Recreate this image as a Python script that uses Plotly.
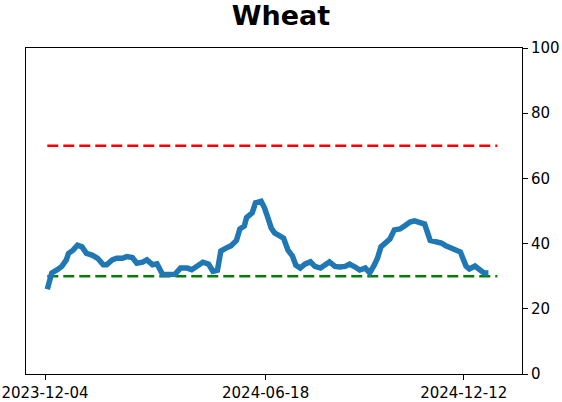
import plotly.graph_objects as go
import pandas as pd

dates = [
    "2023-12-06", "2023-12-10", "2023-12-15", "2023-12-19", "2023-12-23", "2023-12-25",
    "2023-12-29", "2024-01-02", "2024-01-06", "2024-01-10", "2024-01-15", "2024-01-20",
    "2024-01-25", "2024-01-28", "2024-02-02", "2024-02-06", "2024-02-11", "2024-02-15",
    "2024-02-20", "2024-02-24", "2024-02-29", "2024-03-04", "2024-03-09", "2024-03-13",
    "2024-03-18", "2024-03-25", "2024-03-29", "2024-04-03", "2024-04-09", "2024-04-13",
    "2024-04-18", "2024-04-23", "2024-04-28", "2024-05-02", "2024-05-06", "2024-05-09",
    "2024-05-14", "2024-05-18", "2024-05-23", "2024-05-26", "2024-05-30", "2024-06-01",
    "2024-06-06", "2024-06-09", "2024-06-14", "2024-06-17", "2024-06-20", "2024-06-23",
    "2024-06-26", "2024-07-01", "2024-07-04", "2024-07-08", "2024-07-12", "2024-07-15",
    "2024-07-19", "2024-07-23", "2024-07-28", "2024-08-01", "2024-08-06", "2024-08-11",
    "2024-08-14", "2024-08-19", "2024-08-23", "2024-08-28", "2024-09-01", "2024-09-06",
    "2024-09-10", "2024-09-15", "2024-09-19", "2024-09-23", "2024-09-26", "2024-09-29",
    "2024-10-03", "2024-10-07", "2024-10-11", "2024-10-16", "2024-10-20", "2024-10-25",
    "2024-10-29", "2024-11-03", "2024-11-07", "2024-11-12", "2024-11-17", "2024-11-22",
    "2024-11-26", "2024-11-30", "2024-12-06", "2024-12-09", "2024-12-14", "2024-12-17",
    "2024-12-22", "2024-12-25", "2024-12-30", "2025-01-03",
]
values = [
    26, 31, 32, 33, 35, 37,
    38, 39.5, 39, 37, 36.5, 35.5,
    33.5, 33.5, 35, 35.5, 35.5, 36,
    35.7, 34, 34.3, 35, 33.5, 33.8,
    30.5, 30.3, 30.6, 32.5, 32.5, 32,
    33, 34.3, 33.7, 31.5, 31.8, 37.7,
    38.7, 39.3, 41, 44.5, 45.4, 48,
    49.4, 52.5, 53, 51, 48, 44.8,
    43.3, 42.3, 41.7, 38, 36.2, 33.4,
    32.5, 33.7, 34.4, 33, 32.5, 33.7,
    34.4, 33, 32.8, 33, 33.7, 32.8,
    31.9, 32.5, 31, 33.4, 35.6, 39,
    40, 41.4, 44.2, 44.5, 45.4, 46.6,
    47, 46.3, 46, 41, 40.5, 40.2,
    39.3, 38.7, 38, 37.4, 33.1, 32.2,
    33.1, 32.2, 31, 31,
]
upper_level = 70
lower_level = 30
band_dates = ["2023-12-06", "2025-01-11"]
x_ticks = ["2023-12-04", "2024-06-18", "2024-12-12"]
y_ticks = [0, 20, 40, 60, 80, 100]
title = "Wheat"

dash = "11px,5px"
fig = go.Figure()
fig.add_trace(go.Scatter(x=pd.to_datetime(band_dates), y=[upper_level] * 2, mode="lines",
                         line=dict(color="#ff0000", width=2.5, dash=dash), hoverinfo="skip"))
fig.add_trace(go.Scatter(x=pd.to_datetime(band_dates), y=[lower_level] * 2, mode="lines",
                         line=dict(color="#008000", width=2.5, dash=dash), hoverinfo="skip"))
fig.add_trace(go.Scatter(x=pd.to_datetime(dates), y=values, mode="lines",
                         line=dict(color="#1f77b4", width=5.5)))

font = "DejaVu Sans"
fig.update_layout(
    width=562, height=402,
    margin=dict(l=26, r=40, t=48, b=28),
    paper_bgcolor="white", plot_bgcolor="white",
    showlegend=False,
    title=dict(text="<b>" + title + "</b>", x=0.5, xanchor="center", y=0.962, yanchor="middle",
               font=dict(family=font, size=27, color="black")),
    font=dict(family=font, size=15, color="black"),
)
fig.update_xaxes(
    type="date", automargin=False, ticklabeloverflow="allow",
    range=["2023-11-17", "2025-02-02"],
    tickvals=pd.to_datetime(x_ticks), ticktext=x_ticks,
    showgrid=False, zeroline=False,
    showline=True, linecolor="black", linewidth=1, mirror=True,
    ticks="outside", ticklen=5, tickcolor="black",
    tickfont=dict(family=font, size=15),
)
fig.update_yaxes(
    range=[0, 100], side="right", automargin=False, ticklabeloverflow="allow",
    tickvals=y_ticks,
    showgrid=False, zeroline=False,
    showline=True, linecolor="black", linewidth=1, mirror=True,
    ticks="outside", ticklen=5, tickcolor="black",
    tickfont=dict(family=font, size=15),
)
fig.write_html("out.html")
